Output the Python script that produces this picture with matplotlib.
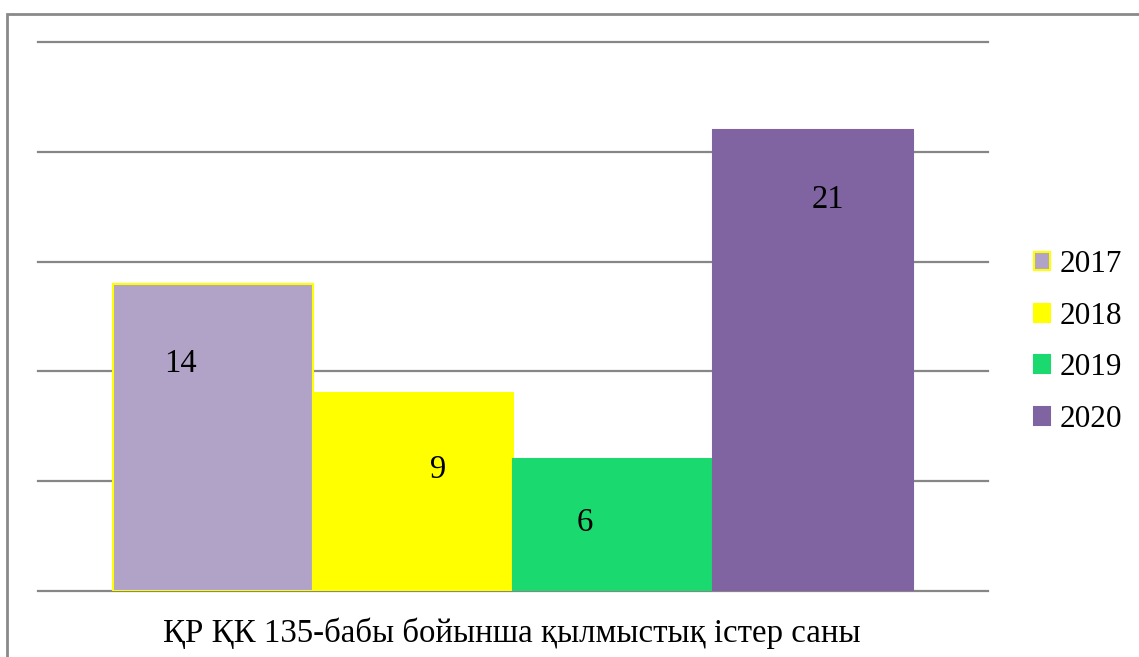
import matplotlib.pyplot as plt
import matplotlib.patches as mpatches

plt.rcParams['font.family'] = ['Liberation Serif', 'DejaVu Serif']

years = ['2017', '2018', '2019', '2020']
counts = [14, 9, 6, 21]
colors = ['#B1A2C8', '#FFFF00', '#1AD96E', '#8064A2']
edges = ['#FFFF00', '#FFFF00', '#1AD96E', '#8064A2']
offsets = [-1.5, -0.5, 0.5, 1.5]
# label spots inside bars (as in the original)
label_pos = [(-1.665, 10.35), (-0.375, 5.5), (0.36, 3.09), (1.575, 17.8)]
title = 'ҚР ҚК 135-бабы бойынша қылмыстық істер саны'

W, H = 1139, 657
fig = plt.figure(figsize=(W / 100, H / 100), dpi=100)
ax = fig.add_axes([38 / W, 66 / H, 950 / W, 549 / H])

bars = []
for off, c, col, ec, y in zip(offsets, counts, colors, edges, years):
    b = ax.bar(off, c, width=1.0, color=col, edgecolor=ec, linewidth=1.5, label=y, zorder=3)
    bars.append(b)

for (lx, ly), c in zip(label_pos, counts):
    ax.text(lx, ly, str(c), ha='center', va='center', fontsize=23.5, zorder=4)

ax.set_xlim(-2.375, 2.375)
ax.set_ylim(0, 25)
for g in [0, 5, 10, 15, 20, 25]:
    ax.axhline(g, color='#868686', linewidth=1.6, zorder=2 if g == 0 else 1, clip_on=False)
ax.set_xticks([])
ax.set_yticks([])
for s in ax.spines.values():
    s.set_visible(False)

fig.text(512 / W, 1 - 633 / H, title, ha='center', va='center', fontsize=23.7)

leg = fig.legend(handles=[b[0] for b in bars], labels=years, loc='center left',
                 bbox_to_anchor=(1018 / W, 1 - 342 / H), frameon=False, fontsize=22.5,
                 handlelength=0.52, handleheight=0.52, handletextpad=0.3,
                 labelspacing=0.72, borderpad=0)

# outer chart frame
fig.patches.append(mpatches.Rectangle((7 / W, -0.1), 1.2, 1 - 14 / H + 0.1,
                                      transform=fig.transFigure, fill=False,
                                      edgecolor='#8A8A8A', linewidth=2))

fig.savefig('out.png', dpi=100)
